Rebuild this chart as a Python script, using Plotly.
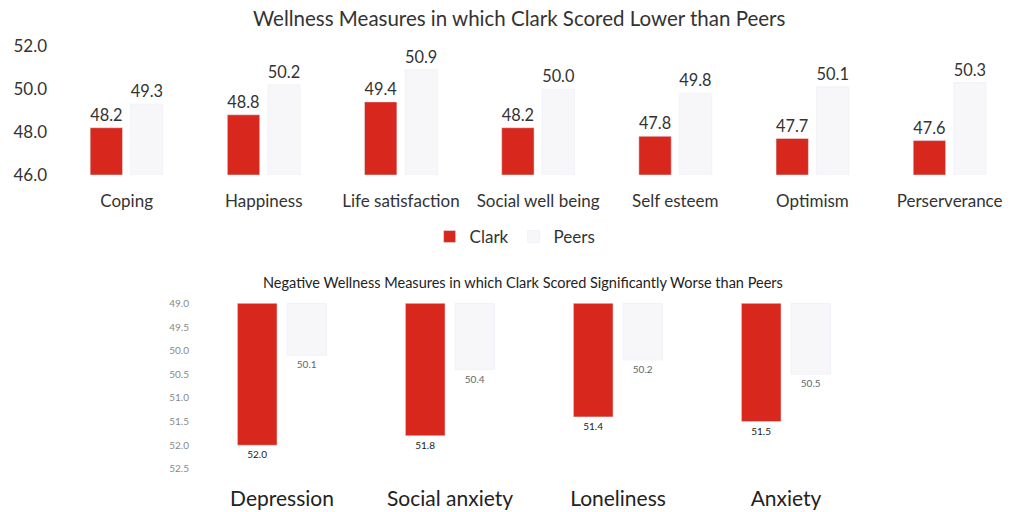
import plotly.graph_objects as go

# ---- data ----
pos_categories = ["Coping", "Happiness", "Life satisfaction", "Social well being",
                  "Self esteem", "Optimism", "Perserverance"]
pos_clark = [48.2, 48.8, 49.4, 48.2, 47.8, 47.7, 47.6]
pos_peers = [49.3, 50.2, 50.9, 50.0, 49.8, 50.1, 50.3]
pos_ticks = [46.0, 48.0, 50.0, 52.0]

neg_categories = ["Depression", "Social anxiety", "Loneliness", "Anxiety"]
neg_clark = [52.0, 51.8, 51.4, 51.5]
neg_peers = [50.1, 50.4, 50.2, 50.5]
neg_ticks = [49.0, 49.5, 50.0, 50.5, 51.0, 51.5, 52.0, 52.5]

pos_base = 46.0
neg_base = 49.0

RED = "#d8281e"
PEER = "#f7f7f9"
FONT = "Lato"
W, H = 1010, 512

def px_y(p):
    return 1 - p / H

def px_x(p):
    return p / W

fig = go.Figure()

# top chart
fig.add_trace(go.Bar(
    name="Clark", x=pos_categories, y=[v - pos_base for v in pos_clark], base=pos_base,
    marker_color=RED, text=[f"{v:.1f}" for v in pos_clark], textposition="outside",
    textfont=dict(size=17, color="#333333", family=FONT), cliponaxis=False,
    xaxis="x", yaxis="y", legendgroup="c"))
fig.add_trace(go.Bar(
    name="Peers", x=pos_categories, y=[v - pos_base for v in pos_peers], base=pos_base,
    marker_color=PEER, text=[f"{v:.1f}" for v in pos_peers], textposition="outside",
    textfont=dict(size=17, color="#333333", family=FONT), cliponaxis=False,
    xaxis="x", yaxis="y", legendgroup="p"))

# bottom chart
fig.add_trace(go.Bar(
    name="Clark", x=neg_categories, y=[v - neg_base for v in neg_clark], base=neg_base,
    marker_color=RED, text=[f"{v:.1f}" for v in neg_clark], textposition="outside",
    textfont=dict(size=10, color="#222222", family=FONT), cliponaxis=False,
    xaxis="x2", yaxis="y2", showlegend=False))
fig.add_trace(go.Bar(
    name="Peers", x=neg_categories, y=[v - neg_base for v in neg_peers], base=neg_base,
    marker_color=PEER, text=[f"{v:.1f}" for v in neg_peers], textposition="outside",
    textfont=dict(size=10, color="#666666", family=FONT), cliponaxis=False,
    xaxis="x2", yaxis="y2", showlegend=False))

fig.update_layout(
    width=W, height=H,
    margin=dict(l=0, r=0, t=0, b=0, autoexpand=False),
    paper_bgcolor="white", plot_bgcolor="white",
    font=dict(family=FONT, color="#333333"),
    barmode="group",
    bargap=0.41, bargroupgap=0.2,
    showlegend=True,
    legend=dict(orientation="h", x=0.51, xanchor="center", y=px_y(237), yanchor="middle",
                font=dict(size=17, color="#333333", family=FONT), bgcolor="rgba(0,0,0,0)",
                itemwidth=30, tracegroupgap=0),
    xaxis=dict(domain=[px_x(58), 1.0], range=[-0.5, 6.44], showgrid=False, showline=False,
               ticks="", tickfont=dict(size=17, color="#333333"), ticklabelstandoff=14,
               anchor="y", automargin=False),
    yaxis=dict(domain=[px_y(175), px_y(46)], range=[46, 52], tickvals=pos_ticks,
               ticktext=[f"{t:.1f}" for t in pos_ticks], showgrid=False, showline=False,
               zeroline=False, ticks="", tickfont=dict(size=17, color="#333333"),
               ticklabelstandoff=10, anchor="x", automargin=False),
    xaxis2=dict(domain=[px_x(198), px_x(870)], range=[-0.5, 3.5], showgrid=False,
                showline=False, ticks="", tickfont=dict(size=21, color="#222222"),
                ticklabelstandoff=8, anchor="y2", automargin=False),
    yaxis2=dict(domain=[px_y(476), px_y(301)], range=[52.65, 48.95], tickvals=neg_ticks,
                ticktext=[f"{t:.1f}" for t in neg_ticks], showgrid=False, showline=False,
                zeroline=False, ticks="", tickfont=dict(size=10, color="#888888"),
                ticklabelstandoff=8, anchor="x2", automargin=False),
    annotations=[
        dict(text="Wellness Measures in which Clark Scored Lower than Peers",
             x=px_x(519), y=px_y(18), xref="paper", yref="paper", showarrow=False,
             xanchor="center", yanchor="middle", font=dict(size=20.5, color="#333333", family=FONT)),
        dict(text="Negative Wellness Measures in which Clark Scored Significantly Worse than Peers",
             x=px_x(523), y=px_y(282), xref="paper", yref="paper", showarrow=False,
             xanchor="center", yanchor="middle", font=dict(size=14.5, color="#222222", family=FONT)),
    ],
)

fig.write_html("out.html")
